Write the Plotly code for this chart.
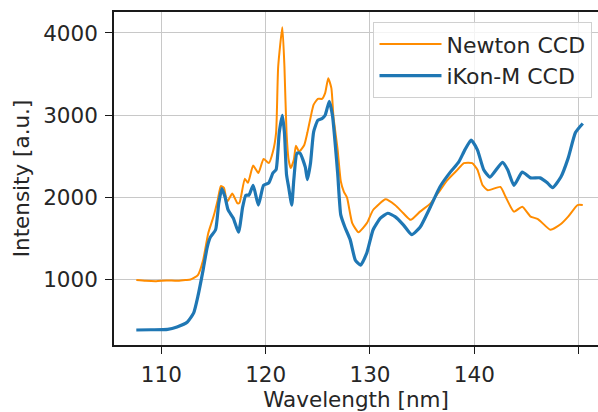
import plotly.graph_objects as go

# Newton CCD (orange)
newton_x = [107.6, 108.5, 109.5, 110.5, 111.5, 112.3, 112.8, 113.5, 114.0, 114.5, 115.0, 115.4, 115.7, 116.0,
            116.3, 116.8, 117.3, 117.5, 118.0, 118.3, 118.8, 119.3, 119.8, 120.3, 120.7, 121.0, 121.2,
            121.6, 121.8, 122.0, 122.2, 122.4, 122.7, 122.9, 123.2, 123.7, 124.0, 124.4, 124.6, 125.0,
            125.4, 125.7, 126.0, 126.3, 126.5, 126.9, 127.2, 127.5, 127.8, 128.3, 128.9, 129.7, 130.3,
            131.5, 132.4, 133.2, 133.9, 134.8, 135.8, 136.5, 137.4, 138.4, 139.0, 139.8, 140.3, 140.8,
            141.3, 142.5, 143.0, 143.8, 144.6, 145.4, 146.1, 147.3, 148.3, 149.0, 149.9, 150.4]
newton_y = [1000, 990, 985, 995, 990, 1000, 1005, 1060, 1240, 1570, 1770, 1970, 2140, 2120,
            1950, 2050, 1930, 1940, 2230, 2180, 2390, 2300, 2470, 2420, 2560, 2790, 3590,
            4070, 3590, 2790, 2460, 2360, 2460, 2630, 2560, 2640, 2790, 3030, 3130, 3200,
            3200, 3270, 3450, 3330, 2980, 2580, 2200, 2070, 2000, 1690, 1580, 1690, 1850,
            1980, 1910, 1810, 1730, 1830, 1930, 2050, 2210, 2340, 2420, 2420, 2340, 2150,
            2090, 2130, 2010, 1830, 1890, 1770, 1740, 1610, 1680, 1770, 1910, 1910]

# iKon-M CCD (blue)
ikon_x = [107.6, 109.0, 110.6, 111.5, 112.5, 113.1, 113.5, 114.0, 114.4, 114.7, 115.2, 115.5, 115.8,
          116.1, 116.4, 116.9, 117.4, 117.8, 118.1, 118.4, 118.8, 119.3, 119.8, 120.3, 120.7, 121.0,
          121.3, 121.6, 121.8, 122.0, 122.2, 122.5, 122.7, 123.0, 123.3, 123.8, 124.0, 124.3, 124.6,
          125.0, 125.4, 125.7, 126.1, 126.4, 126.9, 127.2, 127.6, 128.1, 128.6, 129.1, 129.7, 130.3,
          131.0, 131.7, 132.4, 133.2, 134.0, 134.8, 135.8, 136.7, 137.7, 138.5, 139.1, 139.7, 140.3,
          140.9, 141.5, 142.7, 143.2, 143.8, 144.6, 145.4, 146.3, 147.0, 147.5, 148.3, 149.0, 149.7, 150.4]
ikon_y = [392, 395, 400, 430, 490, 600, 800, 1120, 1400, 1520, 1610, 1930, 2110,
          2010, 1850, 1750, 1580, 1890, 2030, 2030, 2150, 1910, 2150, 2180, 2300, 2340,
          2790, 3000, 2790, 2280, 2130, 1910, 2220, 2540, 2540, 2370, 2220, 2420, 2800,
          2940, 2960, 3000, 3170, 3000, 2300, 1790, 1640, 1490, 1240, 1180, 1330, 1610,
          1750, 1810, 1770, 1670, 1550, 1640, 1890, 2130, 2310, 2430, 2580, 2700, 2580,
          2340, 2250, 2430, 2340, 2150, 2310, 2240, 2240, 2180, 2120, 2250, 2480, 2790, 2900]

x_ticks = [110, 120, 130, 140, 150]
y_ticks = [1000, 2000, 3000, 4000]

FONT = "DejaVu Sans"
TXT = "#262626"
fig = go.Figure()
fig.add_trace(go.Scatter(x=newton_x, y=newton_y, mode="lines", name="Newton CCD",
                         line=dict(color="#ff8c00", width=2, shape="spline", smoothing=0.5)))
fig.add_trace(go.Scatter(x=ikon_x, y=ikon_y, mode="lines", name="iKon-M CCD",
                         line=dict(color="#1f77b4", width=3.2, shape="spline", smoothing=0.5)))

axis_common = dict(showgrid=True, gridcolor="#c8c8c8", gridwidth=1.4, zeroline=False,
                   showline=True, linecolor="#1a1a1a", linewidth=1.6,
                   ticks="outside", ticklen=7, tickwidth=1.4, tickcolor="#1a1a1a",
                   tickfont=dict(family=FONT, size=21.5, color=TXT))

fig.update_xaxes(range=[105.46, 151.86], tickvals=x_ticks, mirror=True,
                 title=dict(text="Wavelength [nm]", font=dict(family=FONT, size=21.5, color=TXT), standoff=5),
                 ticklabelstandoff=2, **axis_common)
fig.update_yaxes(range=[210, 4255], tickvals=y_ticks,
                 title=dict(text="Intensity [a.u.]", font=dict(family=FONT, size=21.5, color=TXT), standoff=8),
                 ticklabelstandoff=3, **axis_common)

fig.update_layout(
    width=598, height=412,
    margin=dict(l=114, r=0, t=12, b=67),
    plot_bgcolor="white", paper_bgcolor="white",
    font=dict(family=FONT, size=21.5, color=TXT),
    legend=dict(x=0.988, y=0.97, xanchor="right", yanchor="top", itemwidth=62,
                bgcolor="rgba(255,255,255,0.8)", bordercolor="#d0d0d0", borderwidth=1.3,
                font=dict(family=FONT, size=22, color=TXT)),
)

fig.write_html("out.html")
